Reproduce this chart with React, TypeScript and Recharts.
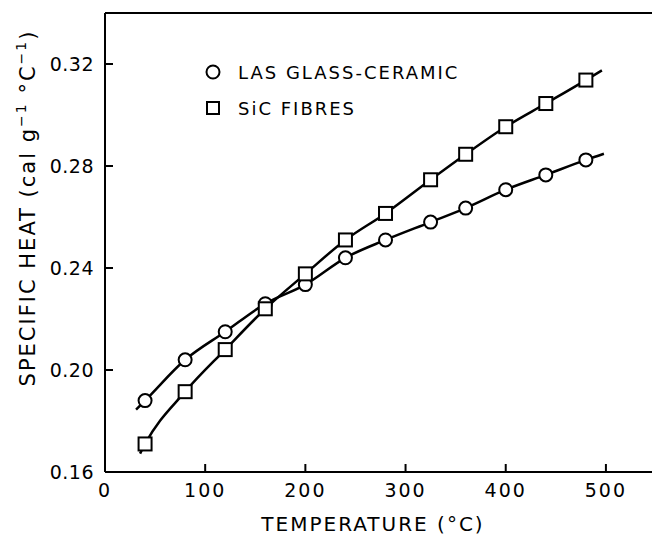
import { ComposedChart, Line, Scatter, XAxis, YAxis } from "recharts";

// measured temperatures (°C)
const TEMPS = [40, 80, 120, 160, 200, 240, 280, 325, 360, 400, 440, 480];
// LAS glass-ceramic specific heat (cal g-1 °C-1)
const LAS_CP = [0.188, 0.204, 0.215, 0.226, 0.2335, 0.244, 0.251, 0.258, 0.2635, 0.2707, 0.2765, 0.2824];
// SiC fibres specific heat
const SIC_CP = [0.171, 0.1915, 0.208, 0.224, 0.2377, 0.251, 0.2614, 0.2746, 0.2846, 0.2954, 0.3045, 0.3137];

// where the fitted curves start and stop
const LAS_CURVE_ENDS = [
  { t: 31, cp: 0.1845 },
  { t: 498, cp: 0.2848 },
];
const SIC_CURVE_ENDS = [
  { t: 35, cp: 0.1672 },
  { t: 496, cp: 0.3175 },
];

const X_TICKS = [0, 100, 200, 300, 400, 500];
const X_TOP_TICKS = [100, 200, 300, 400, 500];
const Y_TICKS = [0.16, 0.2, 0.24, 0.28, 0.32];
const Y_RIGHT_TICKS = [0.2, 0.24, 0.28, 0.32];

const FONT = "'DejaVu Sans', sans-serif";
const INK = "#000";

const lasPts = TEMPS.map((t, i) => ({ t, cp: LAS_CP[i] }));
const sicPts = TEMPS.map((t, i) => ({ t, cp: SIC_CP[i] }));
const lasCurve = [LAS_CURVE_ENDS[0], ...lasPts, LAS_CURVE_ENDS[1]];
const sicCurve = [SIC_CURVE_ENDS[0], ...sicPts, SIC_CURVE_ENDS[1]];

function CircleMark(props: any) {
  const { cx, cy } = props;
  return <circle cx={cx} cy={cy} r={6.5} fill="#fff" stroke={INK} strokeWidth={2} />;
}

function SquareMark(props: any) {
  const { cx, cy } = props;
  return <rect x={cx - 6.5} y={cy - 6.5} width={13} height={13} fill="#fff" stroke={INK} strokeWidth={2} />;
}

const axisLine = { stroke: INK, strokeWidth: 2 };
const tickLine = { stroke: INK, strokeWidth: 2 };

export default function App() {
  return (
    <div style={{ position: "absolute", left: 0, top: 0, background: "#fff" }}>
      <ComposedChart width={652} height={538} margin={{ top: 12, right: 0, bottom: 0, left: 0 }}>
        <XAxis
          xAxisId="b"
          dataKey="t"
          type="number"
          domain={[0, 546]}
          ticks={X_TICKS}
          interval={0}
          allowDataOverflow
          height={66}
          tickSize={-8}
          tickMargin={20}
          axisLine={axisLine}
          tickLine={tickLine}
          tick={{ fill: INK, fontSize: 19, fontFamily: FONT, letterSpacing: 2 }}
        />
        <XAxis
          xAxisId="t"
          orientation="top"
          type="number"
          domain={[0, 546]}
          ticks={X_TOP_TICKS}
          interval={0}
          allowDataOverflow
          height={1}
          tickSize={-8}
          tickFormatter={() => ""}
          axisLine={axisLine}
          tickLine={tickLine}
        />
        <YAxis
          yAxisId="l"
          dataKey="cp"
          type="number"
          domain={[0.16, 0.34]}
          ticks={Y_TICKS}
          interval={0}
          allowDataOverflow
          width={105}
          tickSize={-8}
          tickMargin={19}
          tickFormatter={(v: number) => v.toFixed(2)}
          axisLine={axisLine}
          tickLine={tickLine}
          tick={{ fill: INK, fontSize: 19, fontFamily: FONT, letterSpacing: 0.5 }}
        />
        <YAxis
          yAxisId="r"
          orientation="right"
          type="number"
          domain={[0.16, 0.34]}
          ticks={Y_RIGHT_TICKS}
          interval={0}
          allowDataOverflow
          width={0}
          tickSize={-8}
          tickFormatter={() => ""}
          axisLine={false}
          tickLine={tickLine}
        />
        <Line
          xAxisId="b"
          yAxisId="l"
          data={lasCurve}
          dataKey="cp"
          type="monotone"
          stroke={INK}
          strokeWidth={2.5}
          dot={false}
          isAnimationActive={false}
        />
        <Line
          xAxisId="b"
          yAxisId="l"
          data={sicCurve}
          dataKey="cp"
          type="monotone"
          stroke={INK}
          strokeWidth={2.5}
          dot={false}
          isAnimationActive={false}
        />
        <Scatter xAxisId="b" yAxisId="l" data={lasPts} dataKey="cp" shape={CircleMark} isAnimationActive={false} />
        <Scatter xAxisId="b" yAxisId="l" data={sicPts} dataKey="cp" shape={SquareMark} isAnimationActive={false} />

        {/* legend */}
        <circle cx={213} cy={72} r={6.5} fill="#fff" stroke={INK} strokeWidth={2} />
        <text x={238} y={79} fontFamily={FONT} fontSize={18} letterSpacing={2} fill={INK}>
          LAS GLASS-CERAMIC
        </text>
        <rect x={207} y={102} width={12} height={12} fill="#fff" stroke={INK} strokeWidth={2} />
        <text x={238} y={115} fontFamily={FONT} fontSize={18} letterSpacing={2} fill={INK}>
          SiC FIBRES
        </text>

        {/* axis titles */}
        <text x={373} y={531} textAnchor="middle" fontFamily={FONT} fontSize={20} letterSpacing={2} fill={INK}>
          TEMPERATURE (°C)
        </text>
        <text
          x={35}
          y={208}
          transform="rotate(-90, 35, 208)"
          textAnchor="middle"
          fontFamily={FONT}
          fontSize={21}
          letterSpacing={2}
          fill={INK}
        >
          SPECIFIC HEAT (cal g
          <tspan fontSize={14} dy={-9}>−1</tspan>
          <tspan dy={9}> °C</tspan>
          <tspan fontSize={14} dy={-9}>−1</tspan>
          <tspan dy={9}>)</tspan>
        </text>
      </ComposedChart>
    </div>
  );
}
